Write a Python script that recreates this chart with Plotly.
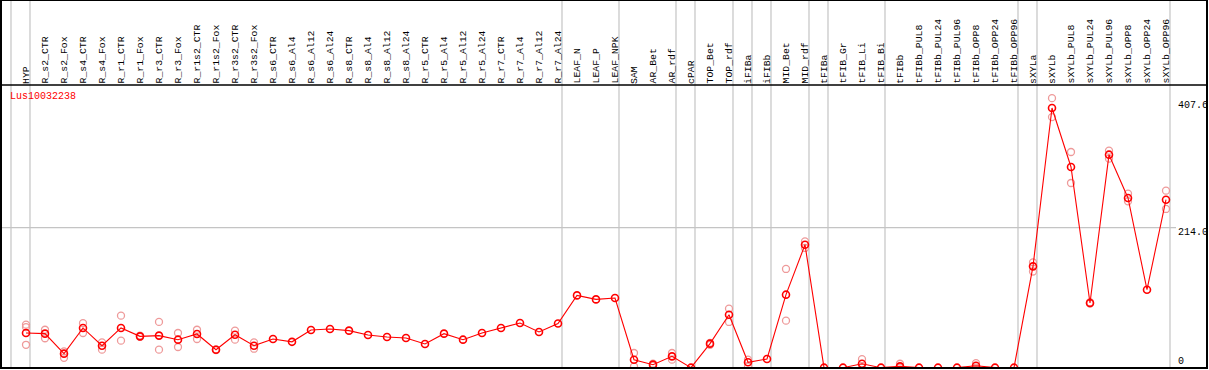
import plotly.graph_objects as go

categories = [
    "HYP", "R_s2_CTR", "R_s2_Fox", "R_s4_CTR", "R_s4_Fox", "R_r1_CTR", "R_r1_Fox",
    "R_r3_CTR", "R_r3_Fox", "R_r1s2_CTR", "R_r1s2_Fox", "R_r3s2_CTR", "R_r3s2_Fox",
    "R_s6_CTR", "R_s6_Al4", "R_s6_Al12", "R_s6_Al24", "R_s8_CTR", "R_s8_Al4",
    "R_s8_Al12", "R_s8_Al24", "R_r5_CTR", "R_r5_Al4", "R_r5_Al12", "R_r5_Al24",
    "R_r7_CTR", "R_r7_Al4", "R_r7_Al12", "R_r7_Al24", "LEAF_N", "LEAF_P", "LEAF_NPK",
    "SAM", "AR_Bet", "AR_rdf", "cPAR", "TOP_Bet", "TOP_rdf", "iFIBa", "iFIBb",
    "MID_Bet", "MID_rdf", "tFIBa", "tFIB_Gr", "tFIB_Li", "tFIB_Bi", "tFIBb",
    "tFIBb_PUL8", "tFIBb_PUL24", "tFIBb_PUL96", "tFIBb_OPP8", "tFIBb_OPP24", "tFIBb_OPP96",
    "sXYLa", "sXYLb", "sXYLb_PUL8", "sXYLb_PUL24", "sXYLb_PUL96", "sXYLb_OPP8",
    "sXYLb_OPP24", "sXYLb_OPP96",
]

means = [
    53, 52, 21.4, 60.7, 33.6, 60.7, 47.9, 49, 42.8, 51.5, 27.5, 50.4, 33.6,
    43.8, 39.5, 57.6, 59.1, 56.6, 49.9, 46.9, 45.4, 36.2, 52, 42.8, 53,
    60.7, 68.3, 54.6, 67.5, 110.5, 104.4, 106.5,
    12.2, 4.6, 17.3, 0, 36.7, 81, 8.2, 13.3, 111.6, 188,
    0, 0, 6, 0, 2, 0, 0, 0, 3, 0, 0,
    154.9, 397, 306.8, 98.9, 325.6, 259.4, 119.2, 256.8,
]

rep_a = [
    65.7, 58, 25, 68, 38.7, 79.5, 49, 70, 53, 58, 28, 56.6, 38.7,
    None, None, None, None, None, None, None, None, None, None, None, None,
    None, None, None, None, None, None, None,
    22.4, 6, 22.4, None, 38, 90.2, 12.2, None, 150.9, 193,
    None, None, 13, None, 6, None, None, None, 7, None, None,
    161, 412, 329.7, 100, 331.7, 266, None, 270.6,
]
rep_b = [
    62, 45, 15, 53, 27.5, 41.3, 47, 27.5, 31.6, 43.8, 27, 42.8, 29,
    None, None, None, None, None, None, None, None, None, None, None, None,
    None, None, None, None, None, None, None,
    2, 3, 12.2, None, 35, 69.9, 2, None, 71.9, 183,
    None, None, 0, None, 0, None, None, None, 0, None, None,
    147, 383, 282.3, 98, 319.5, 254.3, None, 242.6,
]
rep_c = [35] + [None] * 60

group_ends = [-1, 0, 28, 31, 34, 35, 37, 38, 39, 41, 42, 45, 52, 53, 60]
y_ticks = [407.6, 214.0, 0]
y_tick_text = ["407.6", "214.0", "0"]
gene = "Lus10032238"

W, H = 1209, 370
L, R, T, B = 1, 2, 85, 2
plot_h = H - T - B
plot_w = W - L - R
FONT = "Liberation Mono, DejaVu Sans Mono, monospace"

xs = list(range(len(categories)))
rx, ry = [], []
for arr in (rep_a, rep_b, rep_c):
    for i, v in enumerate(arr):
        if v is not None:
            rx.append(i)
            ry.append(v)

fig = go.Figure()
fig.add_trace(go.Scatter(
    x=rx, y=ry, mode="markers",
    marker=dict(symbol="circle-open", size=7, color="#ee9a9a", line=dict(width=1.3)),
    showlegend=False, hoverinfo="skip",
))
fig.add_trace(go.Scatter(
    x=xs, y=means, mode="lines+markers",
    line=dict(color="#ff0000", width=1.1),
    marker=dict(symbol="circle-open", size=7, color="#ff0000", line=dict(width=1.6)),
    showlegend=False,
))

shapes = []
top_paper = 1 + T / plot_h
for b in group_ends:
    shapes.append(dict(type="line", xref="x", yref="paper", x0=b + 0.21, x1=b + 0.21,
                       y0=0, y1=top_paper, line=dict(color="#c4c4c4", width=1.2), layer="below"))
shapes.append(dict(type="line", xref="paper", yref="y", x0=0, x1=(1176 - L) / plot_w,
                   y0=214.0, y1=214.0, line=dict(color="#c4c4c4", width=1.2), layer="below"))
shapes.append(dict(type="line", xref="paper", yref="paper", x0=0, x1=1, y0=1, y1=1,
                   line=dict(color="black", width=1.5)))
shapes.append(dict(type="rect", xref="paper", yref="paper", x0=0, x1=1, y0=0, y1=top_paper,
                   line=dict(color="black", width=2)))

annotations = []
for i, c in enumerate(categories):
    annotations.append(dict(x=i, xref="x", y=(368 - 84) / plot_h,
                            yref="paper", text=c, textangle=-90, showarrow=False,
                            xanchor="center", yanchor="bottom", borderpad=0, borderwidth=0,
                            font=dict(family=FONT, size=9.8, color="black")))
annotations.append(dict(x=(10 - L) / plot_w, xref="paper", y=(368 - 97) / plot_h, yref="paper",
                        text=gene, showarrow=False, xanchor="left", yanchor="middle",
                        borderpad=0, borderwidth=0, font=dict(family=FONT, size=10, color="#ff0000")))
for v, t in zip(y_ticks, y_tick_text):
    annotations.append(dict(x=(1178 - L) / plot_w, xref="paper", y=v, yref="y", text=t,
                            showarrow=False, xanchor="left", yanchor="middle",
                            yshift=(6.6 if v == 0 else -4.4), borderpad=0, borderwidth=0,
                            font=dict(family=FONT, size=10, color="black")))

fig.update_layout(
    width=W, height=H,
    margin=dict(l=L, r=R, t=T, b=B, pad=0),
    paper_bgcolor="white", plot_bgcolor="white",
    xaxis=dict(range=[(L - 26) / 19.0, (W - R - 26) / 19.0], showgrid=False, zeroline=False,
               showticklabels=False, ticks="", showline=False, fixedrange=True),
    yaxis=dict(range=[-0.5, 432.1], showgrid=False, zeroline=False,
               showticklabels=False, ticks="", showline=False, fixedrange=True),
    shapes=shapes, annotations=annotations,
)

fig.write_html(
    "out.html",
    config={"displayModeBar": False},
    post_script="document.body.style.margin='0';document.body.style.overflow='hidden';",
)
